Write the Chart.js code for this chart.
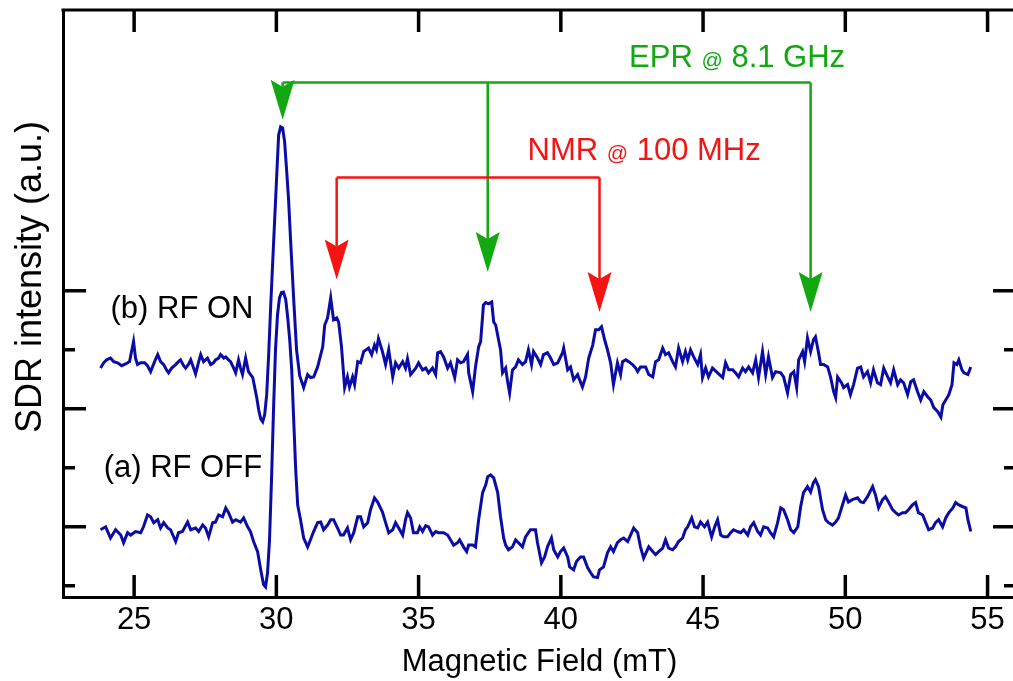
<!DOCTYPE html>
<html>
<head>
<meta charset="utf-8">
<title>SDR spectra, RF on / off</title>
<script src="https://cdn.jsdelivr.net/npm/chart.js@4.4.1/dist/chart.umd.min.js"></script>
<style>
  html, body { margin: 0; padding: 0; background: #fff; }
  #wrap { width: 1013px; height: 681px; overflow: hidden; }
  canvas { display: block; }
</style>
</head>
<body>
<div id="wrap"><canvas id="sdr" width="1016" height="681"></canvas></div>
<script>
// field axis (mT)
const xTicks = [25, 30, 35, 40, 45, 50, 55];
// intensity axis (a.u.) – long ticks on the odd values
const yTicks = [0, 1, 2, 3, 4, 5];
const yMajor = [1, 3, 5];

// (b) RF ON, offset trace
const onField = [
  23.82,23.93,24.03,24.17,24.28,24.42,24.56,24.70,24.84,24.91,
  24.98,25.05,25.12,25.23,25.37,25.47,25.58,25.72,25.83,25.93,
  26.04,26.14,26.21,26.32,26.46,26.56,26.63,26.74,26.81,26.92,
  26.99,27.09,27.16,27.27,27.34,27.44,27.58,27.69,27.79,27.86,
  27.97,28.04,28.15,28.22,28.32,28.39,28.50,28.57,28.67,28.74,
  28.81,28.92,29.02,29.17,29.24,29.31,29.38,29.45,29.52,29.59,
  29.66,29.73,29.80,29.87,29.94,30.01,30.08,30.15,30.22,30.29,
  30.36,30.43,30.50,30.61,30.71,30.82,30.96,31.10,31.20,31.31,
  31.45,31.63,31.70,31.80,31.91,32.01,32.12,32.19,32.29,32.40,
  32.50,32.57,32.68,32.75,32.86,32.96,33.07,33.24,33.35,33.45,
  33.52,33.59,33.73,33.84,33.95,34.09,34.19,34.30,34.44,34.54,
  34.61,34.72,34.90,35.00,35.14,35.25,35.35,35.49,35.60,35.67,
  35.77,35.88,36.02,36.12,36.27,36.37,36.48,36.58,36.72,36.76,
  36.90,37.00,37.11,37.18,37.28,37.36,37.46,37.57,37.64,37.71,
  37.81,37.88,37.95,38.06,38.13,38.20,38.30,38.41,38.51,38.65,
  38.76,38.86,38.97,39.04,39.18,39.29,39.39,39.53,39.64,39.75,
  39.89,40.06,40.10,40.24,40.34,40.45,40.59,40.76,40.87,40.98,
  41.12,41.22,41.33,41.43,41.54,41.64,41.75,41.85,41.99,42.10,
  42.17,42.28,42.38,42.52,42.63,42.70,42.80,42.98,43.09,43.23,
  43.33,43.44,43.58,43.68,43.79,43.93,44.03,44.14,44.28,44.38,
  44.46,44.56,44.67,44.81,44.91,44.98,45.09,45.19,45.33,45.51,
  45.69,45.79,45.90,46.04,46.14,46.25,46.39,46.49,46.60,46.74,
  46.85,46.95,47.09,47.20,47.30,47.44,47.55,47.73,47.83,47.97,
  48.08,48.19,48.29,48.36,48.50,48.57,48.67,48.78,48.88,48.95,
  49.06,49.13,49.24,49.38,49.48,49.59,49.66,49.73,49.87,49.94,
  50.08,50.18,50.29,50.43,50.54,50.64,50.78,50.89,50.99,51.13,
  51.24,51.35,51.49,51.59,51.70,51.84,51.94,52.05,52.19,52.30,
  52.40,52.54,52.65,52.76,52.90,53.00,53.11,53.25,53.36,53.43,
  53.53,53.64,53.75,53.82,53.92,53.99,54.10,54.17,54.31,54.41
];
const onSignal = [
  3.69,3.78,3.83,3.86,3.80,3.78,3.73,3.76,3.80,3.97,
  4.14,3.86,3.75,3.78,3.78,3.73,3.63,3.80,3.92,3.80,
  3.75,3.66,3.61,3.69,3.75,3.80,3.83,3.73,3.69,3.76,
  3.83,3.69,3.59,3.80,3.92,3.80,3.86,3.75,3.78,3.83,
  3.86,3.92,3.86,3.88,3.83,3.80,3.69,3.61,3.83,3.69,
  3.58,3.86,3.63,3.53,3.36,3.19,2.98,2.83,2.78,2.90,
  3.24,3.92,4.73,5.47,6.20,6.93,7.64,7.78,7.76,7.53,
  7.05,6.54,5.86,4.85,4.00,3.56,3.36,3.58,3.53,3.54,
  3.71,4.05,4.42,4.54,4.88,4.51,4.54,4.47,4.05,3.36,
  3.54,3.37,3.54,3.41,3.80,3.78,3.97,4.03,3.92,4.08,
  4.00,4.19,3.97,3.75,4.00,3.54,3.78,3.69,3.80,3.69,
  3.85,3.58,3.69,3.78,3.66,3.69,3.61,3.69,3.58,3.95,
  3.97,3.88,3.69,3.78,3.53,3.83,3.78,3.80,3.92,3.61,
  3.29,3.71,4.05,4.14,4.76,4.80,4.78,4.81,4.47,4.42,
  4.17,4.00,3.61,3.69,3.46,3.27,3.66,3.71,3.83,3.75,
  3.80,4.00,3.75,3.97,3.86,3.75,3.92,3.95,3.86,3.75,
  3.78,3.95,4.03,3.66,3.71,3.49,3.58,3.37,3.54,3.86,
  4.08,4.34,4.34,4.39,4.17,4.00,3.78,3.41,3.78,3.58,
  3.80,3.83,3.80,3.75,3.69,3.63,3.71,3.71,3.58,3.54,
  3.80,3.83,4.03,3.92,3.95,3.80,3.71,4.03,3.80,3.97,
  3.83,4.00,3.88,3.75,3.92,3.53,3.69,3.54,3.69,3.61,
  3.53,3.78,3.66,3.66,3.61,3.54,3.69,3.63,3.71,3.61,
  3.83,3.53,3.97,3.58,3.88,3.53,3.63,3.61,3.54,3.27,
  3.58,3.63,3.36,3.83,3.97,3.80,4.20,3.97,4.17,4.22,
  3.95,3.75,3.75,3.71,3.54,3.29,3.19,3.54,3.44,3.36,
  3.41,3.24,3.41,3.69,3.71,3.54,3.63,3.44,3.66,3.44,
  3.41,3.69,3.54,3.44,3.66,3.41,3.49,3.44,3.24,3.46,
  3.49,3.29,3.15,3.29,3.20,3.15,3.02,2.95,2.86,3.07,
  3.15,3.24,3.41,3.78,3.75,3.83,3.66,3.61,3.58,3.71
];

// (a) RF OFF
const offField = [
  23.82,24.00,24.17,24.35,24.53,24.63,24.77,24.88,25.05,25.23,
  25.33,25.47,25.58,25.69,25.83,25.93,26.04,26.18,26.28,26.46,
  26.56,26.70,26.88,26.99,27.16,27.27,27.41,27.51,27.62,27.76,
  27.86,27.97,28.11,28.22,28.32,28.46,28.57,28.74,28.85,28.99,
  29.09,29.20,29.34,29.45,29.55,29.62,29.69,29.76,29.83,29.90,
  29.97,30.04,30.11,30.18,30.25,30.33,30.40,30.47,30.54,30.61,
  30.68,30.75,30.85,30.96,31.10,31.20,31.31,31.45,31.56,31.66,
  31.80,31.91,32.01,32.15,32.26,32.36,32.50,32.61,32.72,32.86,
  32.96,33.07,33.21,33.31,33.45,33.56,33.73,33.84,33.95,34.09,
  34.19,34.30,34.44,34.54,34.61,34.72,34.82,34.96,35.04,35.14,
  35.25,35.35,35.49,35.60,35.70,35.88,36.02,36.12,36.23,36.37,
  36.44,36.58,36.69,36.76,36.90,37.00,37.11,37.25,37.36,37.43,
  37.53,37.64,37.78,37.88,37.99,38.06,38.16,38.30,38.41,38.51,
  38.65,38.76,38.93,39.11,39.18,39.32,39.43,39.53,39.67,39.75,
  39.89,39.99,40.10,40.24,40.31,40.45,40.55,40.69,40.80,40.94,
  41.05,41.15,41.29,41.36,41.50,41.64,41.75,41.85,41.99,42.10,
  42.21,42.35,42.45,42.56,42.70,42.80,42.91,43.09,43.23,43.33,
  43.44,43.58,43.68,43.79,43.93,44.03,44.14,44.28,44.38,44.46,
  44.60,44.70,44.81,44.91,45.05,45.16,45.30,45.41,45.51,45.62,
  45.72,45.86,45.97,46.07,46.21,46.32,46.43,46.57,46.67,46.78,
  46.92,47.02,47.13,47.27,47.37,47.48,47.62,47.73,47.83,47.97,
  48.08,48.19,48.33,48.43,48.53,48.67,48.78,48.88,48.95,49.06,
  49.20,49.31,49.41,49.55,49.66,49.76,49.90,50.01,50.11,50.25,
  50.43,50.54,50.64,50.78,50.96,51.06,51.17,51.31,51.41,51.52,
  51.66,51.77,51.87,52.01,52.12,52.22,52.36,52.47,52.57,52.72,
  52.82,52.93,53.07,53.17,53.28,53.42,53.53,53.64,53.78,53.88,
  53.99,54.13,54.24,54.31,54.41
];
const offSignal = [
  0.95,1.00,0.81,0.95,0.86,0.73,0.90,0.86,0.92,0.90,
  1.00,1.20,1.17,1.07,1.12,0.98,1.07,0.98,0.95,0.75,
  0.90,0.92,1.08,0.95,0.98,0.92,1.03,0.98,0.83,1.07,
  1.08,1.20,1.17,1.32,1.24,1.08,1.12,1.08,1.15,1.00,
  0.92,0.75,0.58,0.27,0.02,-0.02,0.22,0.78,1.80,2.98,
  4.00,4.59,4.88,4.97,4.98,4.85,4.54,4.17,3.66,2.81,
  1.97,1.37,1.12,0.81,0.66,0.78,0.92,1.07,1.08,0.95,
  1.03,1.12,1.12,0.98,0.86,0.86,0.98,0.78,0.90,1.17,
  1.17,1.00,1.07,1.29,1.49,1.42,1.25,1.07,0.90,0.95,
  1.07,0.98,0.86,1.12,1.24,1.15,0.90,0.90,1.00,0.92,
  1.02,1.00,0.86,0.92,0.90,0.90,0.86,0.78,0.69,0.73,
  0.78,0.66,0.58,0.69,0.69,0.66,1.12,1.58,1.71,1.85,
  1.88,1.83,1.58,1.17,0.81,0.69,0.61,0.66,0.78,0.73,
  0.66,0.83,0.95,0.95,0.73,0.39,0.49,0.66,0.81,0.61,
  0.49,0.58,0.64,0.49,0.32,0.27,0.41,0.49,0.49,0.31,
  0.22,0.15,0.14,0.27,0.32,0.56,0.66,0.58,0.73,0.78,
  0.81,0.75,0.86,0.98,0.90,0.66,0.47,0.66,0.58,0.53,
  0.58,0.64,0.78,0.64,0.61,0.66,0.75,0.81,0.95,1.00,
  1.15,1.00,0.98,1.08,1.00,1.08,0.83,1.00,1.12,0.86,
  0.83,0.83,0.90,0.95,0.92,0.90,0.95,0.86,1.00,1.07,
  0.92,0.86,1.00,0.98,0.90,0.83,1.07,1.32,1.29,1.12,
  0.95,0.90,1.00,1.34,1.58,1.68,1.59,1.75,1.80,1.68,
  1.29,1.12,1.07,1.03,1.08,1.15,1.37,1.54,1.42,1.46,
  1.49,1.42,1.41,1.51,1.68,1.54,1.32,1.46,1.51,1.42,
  1.29,1.24,1.20,1.24,1.24,1.29,1.37,1.41,1.24,1.20,
  1.08,0.95,0.98,1.07,1.12,1.00,1.15,1.24,1.32,1.41,
  1.37,1.34,1.32,1.12,0.92
];

// resonance markers: field positions, arrow tips and bracket height
const eprFields = [30.22, 37.43, 48.78];
const eprTips = [7.90, 5.32, 4.64];
const eprBar = 8.53;
const nmrFields = [32.12, 41.36];
const nmrTips = [5.19, 4.64];
const nmrBar = 6.92;

const BLUE = "#0b0ba6";
const GREEN = "#12a812";
const RED = "#f41414";
const FONT = '"Liberation Sans", Arial, Helvetica, sans-serif';
const SIZE = 31;

const labels = [
  { parts: ["EPR ", "@", " 8.1 GHz"], x: 42.40, y: 8.80, color: GREEN },
  { parts: ["NMR ", "@", " 100 MHz"], x: 38.83, y: 7.22, color: RED },
  { parts: ["(b) RF ON"], x: 24.17, y: 4.54, color: "#000" },
  { parts: ["(a) RF OFF"], x: 23.93, y: 1.85, color: "#000" },
];

const toPoints = (xs, ys) => xs.map((x, i) => ({ x, y: ys[i] }));

// closed box + inward ticks on all four sides, and the rotated y title
const frameTicks = {
  id: "frameTicks",
  afterDraw(chart) {
    const { ctx, chartArea: a, scales } = chart;
    ctx.save();
    ctx.strokeStyle = "#000";
    ctx.lineWidth = 3;
    ctx.beginPath();
    ctx.moveTo(a.left - 1.5, a.top);
    ctx.lineTo(a.right, a.top);
    ctx.lineTo(a.right, a.bottom);
    ctx.stroke();

    ctx.lineWidth = 3.5;
    ctx.beginPath();
    for (const v of xTicks) {
      const px = scales.x.getPixelForValue(v);
      ctx.moveTo(px, a.bottom);
      ctx.lineTo(px, a.bottom - 22);
      ctx.moveTo(px, a.top);
      ctx.lineTo(px, a.top + 22);
    }
    for (const v of yTicks) {
      const py = scales.y.getPixelForValue(v);
      const len = yMajor.includes(v) ? 23 : 12;
      ctx.moveTo(a.left, py);
      ctx.lineTo(a.left + len, py);
      ctx.moveTo(a.right, py);
      ctx.lineTo(a.right - len, py);
    }
    ctx.stroke();

    ctx.translate(41, 277);
    ctx.rotate(-Math.PI / 2);
    ctx.font = "36px " + FONT;
    ctx.fillStyle = "#000";
    ctx.textAlign = "center";
    ctx.textBaseline = "alphabetic";
    ctx.fillText("SDR intensity (a.u.)", 0, 0);
    ctx.restore();
  },
};

const HEAD_W = 24;
const HEAD_LEN = 40;
const NOTCH = 7;

function drawBracket(chart, fields, tips, bar, color) {
  const { ctx, scales: { x, y } } = chart;
  const yb = y.getPixelForValue(bar);
  ctx.strokeStyle = color;
  ctx.fillStyle = color;
  ctx.lineWidth = 2.5;
  ctx.beginPath();
  ctx.moveTo(x.getPixelForValue(fields[0]), yb);
  ctx.lineTo(x.getPixelForValue(fields[fields.length - 1]), yb);
  ctx.stroke();
  fields.forEach((f, i) => {
    const px = x.getPixelForValue(f);
    const tip = y.getPixelForValue(tips[i]);
    const back = tip - HEAD_LEN;
    ctx.beginPath();
    ctx.moveTo(px, yb);
    ctx.lineTo(px, back + NOTCH);
    ctx.stroke();
    ctx.beginPath();
    ctx.moveTo(px, tip);
    ctx.lineTo(px - HEAD_W / 2, back);
    ctx.lineTo(px, back + NOTCH);
    ctx.lineTo(px + HEAD_W / 2, back);
    ctx.closePath();
    ctx.fill();
  });
}

const markers = {
  id: "markers",
  afterDatasetsDraw(chart) {
    const { ctx, scales: { x, y } } = chart;
    ctx.save();
    drawBracket(chart, eprFields, eprTips, eprBar, GREEN);
    drawBracket(chart, nmrFields, nmrTips, nmrBar, RED);

    ctx.textBaseline = "alphabetic";
    ctx.textAlign = "left";
    for (const l of labels) {
      let px = x.getPixelForValue(l.x);
      const py = y.getPixelForValue(l.y);
      ctx.fillStyle = l.color;
      for (const p of l.parts) {
        // the "@" sits small on the baseline
        ctx.font = (p === "@" ? "21px " : SIZE + "px ") + FONT;
        ctx.fillText(p, px, py);
        px += ctx.measureText(p).width;
      }
    }
    ctx.restore();
  },
};

Chart.defaults.font.family = FONT;
Chart.defaults.color = "#000";

new Chart(document.getElementById("sdr"), {
  type: "scatter",
  data: {
    datasets: [
      {
        label: "(b) RF ON",
        data: toPoints(onField, onSignal),
        showLine: true,
        borderColor: BLUE,
        borderWidth: 3,
        pointRadius: 0,
        tension: 0,
      },
      {
        label: "(a) RF OFF",
        data: toPoints(offField, offSignal),
        showLine: true,
        borderColor: BLUE,
        borderWidth: 3,
        pointRadius: 0,
        tension: 0,
      },
    ],
  },
  options: {
    responsive: false,
    animation: false,
    devicePixelRatio: 1,
    layout: { padding: { top: 10, right: 0, bottom: 0, left: 0 } },
    plugins: {
      legend: { display: false },
      tooltip: { enabled: false },
    },
    scales: {
      x: {
        type: "linear",
        min: 22.5,
        max: 56,
        afterBuildTicks: (s) => { s.ticks = xTicks.map((v) => ({ value: v })); },
        afterFit: (s) => { s.height = 84; },
        grid: { display: false, drawTicks: false },
        border: { display: true, color: "#000", width: 3 },
        ticks: { font: { size: SIZE }, color: "#000", padding: 5, maxRotation: 0, autoSkip: false },
        title: {
          display: true,
          text: "Magnetic Field (mT)",
          font: { size: SIZE },
          color: "#000",
          padding: { top: 0, bottom: 0 },
        },
      },
      y: {
        type: "linear",
        min: -0.19,
        max: 9.76,
        afterBuildTicks: (s) => { s.ticks = yTicks.map((v) => ({ value: v })); },
        afterFit: (s) => { s.width = 63; },
        grid: { display: false, drawTicks: false },
        border: { display: true, color: "#000", width: 3 },
        ticks: { display: false },
        title: { display: false },
      },
    },
  },
  plugins: [frameTicks, markers],
});
</script>
</body>
</html>
